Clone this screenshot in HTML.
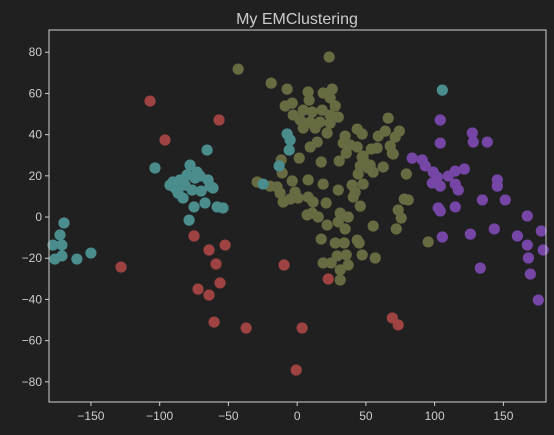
<!DOCTYPE html>
<html><head><meta charset="utf-8"><style>
html,body{margin:0;padding:0;background:#202020;}
svg{display:block;font-family:"Liberation Sans","DejaVu Sans",sans-serif;}
</style></head><body>
<svg id="chart" width="554" height="435" viewBox="0 0 554 435" xmlns="http://www.w3.org/2000/svg">
<rect x="0" y="0" width="554" height="435" fill="#202020"/>
<text x="297" y="24" text-anchor="middle" font-size="16" fill="#cccccc">My EMClustering</text>
<g id="points"></g>
<g id="axes"></g>
</svg>
<script>
const xTicks=[-150,-100,-50,0,50,100,150];
const yTicks=[80,60,40,20,0,-20,-40,-60,-80];
const tealX=[-65.5,-103.4,-77.9,-72.8,-80.1,-90.3,-88.8,-86.6,-83,-69.9,-64.8,-61.2,-67,-75,-58.2,-53.9,-78.6,-169.6,-172.5,-177.6,-171.1,-171.1,-176.2,-160.2,-150,-24.8,-13.1,-7.3,-5.1,-5.8,105.6,-85.2,-81.5,-74.3,-70.6,-92.5,-76.4,-63.3];
const tealY=[32.5,23.8,25.2,21.8,20.4,17,14.1,11.6,9.2,12.6,18,14.1,6.8,4.9,4.9,4.4,-1.5,-2.9,-8.7,-13.6,-13.6,-18.9,-20.4,-20.4,-17.5,16,24.8,40.3,37.4,32.5,61.6,18,15.5,18.9,19.9,15.5,13.1,15];
const redX=[-107,-96.1,-56.8,-75,-64.1,-59,-56.1,-52.4,-72.1,-64.1,-60.4,-37.1,-128.1,-9.5,3.6,-0.7,22.6,69.2,73.5];
const redY=[56.3,37.4,47.1,-9.2,-16,-22.8,-32,-13.6,-35,-37.9,-51,-53.9,-24.3,-23.3,-53.9,-74.3,-30.1,-49,-52.4];
const purpleX=[83.7,91,93.2,99,101.9,98.3,104.1,109.9,115,104.1,104.1,102.6,104.1,105.6,115,117.2,121.6,127.4,128.1,138.3,126,134.7,145.6,145.6,151.4,143.4,160.2,167.4,167.4,168.2,175.4,169.6,177.6,179,133.2,115];
const purpleY=[28.6,27.7,24.8,21.8,19.4,16.5,15,19.9,22.3,47.1,35.9,4.4,2.9,-9.7,16,13.1,23.3,40.8,36.4,36.4,-8.3,8.3,18,15,8.3,-5.8,-9.2,0.5,-13.6,-19.9,-40.3,-27.7,-6.8,-16,-24.8,4.9];
const oliveX=[23.3,-18.9,-7.3,8,18.9,25.5,24,8.7,-8.7,-3.6,27.7,-2.9,4.4,10.9,18.2,24,29.9,2.2,9.5,16.7,24,4.4,13.1,21.8,43.7,47.3,66.2,59,64.1,74.3,71.3,34.9,33.5,38.6,43.7,53.9,67.7,69.2,14.6,9.5,48,30.6,17.5,1.5,45.9,53.1,35.7,47.3,49.5,51.7,55.3,69.9,79.4,-10.9,-3.6,8,18.9,-14.6,-12.4,-10.2,-5.1,-1.5,0.7,8,11.6,21.1,29.9,40,42.2,40.8,48,45.9,80.8,73.5,7.3,10.9,15.3,31.3,37.1,21.8,29.9,34.9,55.3,72.1,17.5,27.7,34.2,43.7,45.1,29.1,35.7,47.3,56.8,18.9,24.7,31.3,95.3,44.4,62.6,58.2,37.1,31.3,77.9,75.7,-42.9,-29.1,-19.7,-11.6];
const oliveY=[77.7,65,62.1,60.7,60.2,62.1,57.8,56.8,53.9,55.3,53.9,49.5,51.9,51,51.9,49.5,48.5,47.1,46.1,46.1,45.6,43.2,43.2,40.8,42.7,40.3,48,39.3,41.7,41.7,38.8,39.3,35.9,35,34,33,34.5,31,36.4,34,29.6,27.2,26.7,28.6,24.8,25.2,31,29.1,26.2,23.8,21.8,30.6,20.9,21.4,17.5,18,16,14.6,11.6,7.3,8.7,12.1,9.2,9.7,7.3,6.8,13.1,15.5,12.1,9.7,16,5.3,8.3,3.4,1,1.9,0,1.9,0,-3.9,-2.4,-5.8,-4.4,-5.8,-10.7,-12.6,-12.6,-11.2,-12.6,-18.9,-18.4,-18.4,-19.9,-22.3,-22.3,-25.7,-12.1,20.9,24.3,33.5,-23.3,-30.6,8.7,-0.5,71.8,17,15,27.7];

const L=49,R=546,T=30,B=402,XMIN=-180.5,XMAX=181,YMIN=-89.8,YMAX=90.8;
const sx=v=>L+(v-XMIN)/(XMAX-XMIN)*(R-L);
const sy=v=>B-(v-YMIN)/(YMAX-YMIN)*(B-T);
const NS="http://www.w3.org/2000/svg";
const pts=document.getElementById('points');
function drawSeries(xs,ys,color,name){
  for(let i=0;i<xs.length;i++){
    const c=document.createElementNS(NS,'circle');
    c.setAttribute('cx',sx(xs[i]));c.setAttribute('cy',sy(ys[i]));
    c.setAttribute('r',5.6);c.setAttribute('fill',color);
    
    
    pts.appendChild(c);
  }
}
drawSeries(oliveX,oliveY,'#686a41','olive-cluster');
drawSeries(tealX,tealY,'#4b8d8d','teal-cluster');
drawSeries(redX,redY,'#9e4342','red-cluster');
drawSeries(purpleX,purpleY,'#7646a6','purple-cluster');

const ax=document.getElementById('axes');
const frame=document.createElementNS(NS,'rect');
frame.setAttribute('x',L);frame.setAttribute('y',T);frame.setAttribute('width',R-L);frame.setAttribute('height',B-T);
frame.setAttribute('fill','none');frame.setAttribute('stroke','#d0d0d0');frame.setAttribute('stroke-width','1');


ax.appendChild(frame);
xTicks.forEach(t=>{
  const x=sx(t);
  const l=document.createElementNS(NS,'line');
  l.setAttribute('x1',x);l.setAttribute('x2',x);l.setAttribute('y1',B);l.setAttribute('y2',B+4);l.setAttribute('stroke','#d0d0d0');
  
  
  ax.appendChild(l);
  const tx=document.createElementNS(NS,'text');
  tx.setAttribute('x',x);tx.setAttribute('y',B+18);tx.setAttribute('text-anchor','middle');tx.setAttribute('font-size','12');tx.setAttribute('fill','#cccccc');
  tx.textContent=t<0?'\u2212'+Math.abs(t):String(t);
  
  
  ax.appendChild(tx);
});
yTicks.forEach(t=>{
  const y=sy(t);
  const l=document.createElementNS(NS,'line');
  l.setAttribute('x1',L-4);l.setAttribute('x2',L);l.setAttribute('y1',y);l.setAttribute('y2',y);l.setAttribute('stroke','#d0d0d0');
  
  
  ax.appendChild(l);
  const tx=document.createElementNS(NS,'text');
  tx.setAttribute('x',L-7);tx.setAttribute('y',y+4);tx.setAttribute('text-anchor','end');tx.setAttribute('font-size','12');tx.setAttribute('fill','#cccccc');
  tx.textContent=t<0?'\u2212'+Math.abs(t):String(t);
  
  
  ax.appendChild(tx);
});
</script>
</body></html>
